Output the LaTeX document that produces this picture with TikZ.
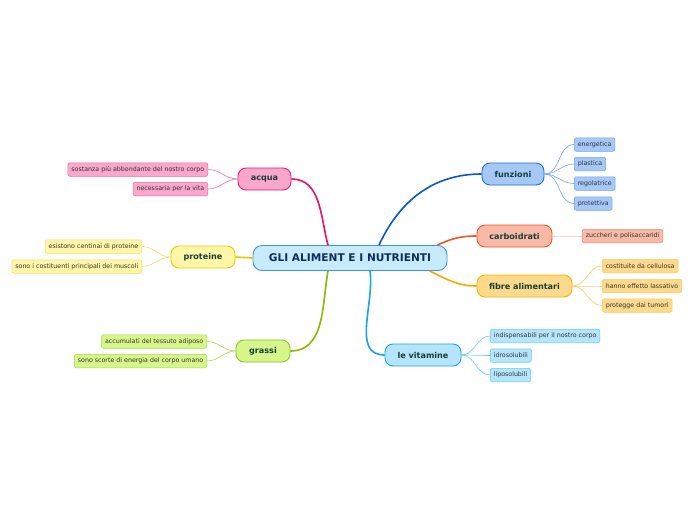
\documentclass[tikz,border=0pt]{standalone}
\usepackage{fontspec}
\setmainfont{DejaVu Sans}
\begin{document}
\begin{tikzpicture}[x=1pt,y=-1pt,
  mainbox/.style={draw=#1!100,line width=0.9pt,rounded corners=9pt,minimum height=25pt,minimum width=194pt,inner sep=0pt,font=\fontsize{10.6}{12}\selectfont\bfseries,text=cText},
  branch/.style n args={3}{draw=#2,fill=#1,line width=0.9pt,rounded corners=8pt,minimum height=22pt,minimum width=#3,inner sep=0pt,font=\fontsize{8.1}{9}\selectfont\bfseries,text=bText},
  leaf/.style 2 args={draw=#2,fill=#1,line width=0.5pt,rounded corners=2pt,minimum height=13.5pt,inner xsep=3.5pt,inner ysep=0pt,font=\fontsize{6.3}{7}\selectfont,text=lText},
  mline/.style={line width=1.6pt,draw=#1},
  lline/.style={line width=0.6pt,draw=#1}]
\definecolor{cText}{HTML}{0D2D5A}
\definecolor{bText}{HTML}{163F3A}
\definecolor{lText}{HTML}{333333}
\definecolor{cFill}{HTML}{C8EBFB}\definecolor{cBord}{HTML}{3D94DC}
\definecolor{bluF}{HTML}{A5C8F7}\definecolor{bluB}{HTML}{1F6FD6}\definecolor{bluL}{HTML}{0A55C9}\definecolor{bluLB}{HTML}{6FA4EE}
\definecolor{orF}{HTML}{F9B9A7}\definecolor{orB}{HTML}{F0562A}\definecolor{orLB}{HTML}{F08A70}\definecolor{orLL}{HTML}{F8C0B0}
\definecolor{yeF}{HTML}{FDD98C}\definecolor{yeB}{HTML}{F8B400}\definecolor{yeL}{HTML}{F8A900}\definecolor{yeLB}{HTML}{F8CD6A}
\definecolor{cyF}{HTML}{B4E5FB}\definecolor{cyB}{HTML}{1AA3E8}\definecolor{cyLB}{HTML}{6CCAF4}
\definecolor{pkF}{HTML}{F9A7CB}\definecolor{pkB}{HTML}{E9187A}\definecolor{pkL}{HTML}{EA0F6B}\definecolor{pkLB}{HTML}{F06CA2}
\definecolor{lyF}{HTML}{FFF6A8}\definecolor{lyB}{HTML}{E8C900}\definecolor{lyLB}{HTML}{F1DD60}
\definecolor{grF}{HTML}{D6F68C}\definecolor{grB}{HTML}{8CC51D}\definecolor{grL}{HTML}{8CB800}\definecolor{grLB}{HTML}{A8D84C}
\useasboundingbox[fill=white] (0,0) rectangle (696,520);

% center
\node[mainbox=cBord,fill=cFill] (c) at (350,258) {GLI ALIMENT E I NUTRIENTI};

% branches
\node[branch={bluF}{bluB}{62pt}] (fz) at (513,174) {funzioni};
\node[branch={orF}{orB}{75pt}] (cb) at (514.5,236) {carboidrati};
\node[branch={yeF}{yeB}{95pt}] (fb) at (524.5,286) {fibre alimentari};
\node[branch={cyF}{cyB}{76pt}] (vt) at (423,355) {le vitamine};
\node[branch={pkF}{pkB}{53pt}] (aq) at (264.5,179) {acqua};
\node[branch={lyF}{lyB}{64pt}] (pr) at (203,257) {proteine};
\node[branch={grF}{grB}{54pt}] (gr) at (263,351) {grassi};

% main connectors
\draw[mline=bluL] ([xshift=29pt]c.north) to[out=65,in=180] (fz.west);
\draw[mline=orB] ([xshift=-10pt]c.north east) to[out=25,in=180] (cb.west);
\draw[mline=yeL] ([xshift=-18pt]c.south east) to[out=-25,in=180] (fb.west);
\draw[mline=cyB] ([xshift=20pt]c.south) to[out=-82,in=180] (vt.west);
\draw[mline=pkL] ([xshift=-22pt]c.north) to[out=105,in=0] (aq.east);
\draw[mline=lyB] (c.west) -- (pr.east);
\draw[mline=grL] ([xshift=-22pt]c.south) to[out=-100,in=0] (gr.east);

% leaves: funzioni
\node[leaf={bluF}{bluLB},anchor=west] (f1) at (574,144.5) {energetica};
\node[leaf={bluF}{bluLB},anchor=west] (f2) at (574,164) {plastica};
\node[leaf={bluF}{bluLB},anchor=west] (f3) at (574,183.5) {regolatrice};
\node[leaf={bluF}{bluLB},anchor=west] (f4) at (574,203.5) {protettiva};
\foreach \n in {f1,f2,f3,f4}{\draw[lline=bluLB] (fz.east) to[out=0,in=180] (\n.west);}

% carboidrati
\node[leaf={orF}{orLB},anchor=west] (k1) at (582,236) {zuccheri e polisaccaridi};
\draw[lline=orLL] (cb.east) to[out=0,in=180] (k1.west);

% fibre
\node[leaf={yeF}{yeLB},anchor=west] (b1) at (602,266) {costituite da cellulosa};
\node[leaf={yeF}{yeLB},anchor=west] (b2) at (602,286) {hanno effetto lassativo};
\node[leaf={yeF}{yeLB},anchor=west] (b3) at (602,305.5) {protegge dai tumori};
\foreach \n in {b1,b2,b3}{\draw[lline=yeLB] (fb.east) to[out=0,in=180] (\n.west);}

% vitamine
\node[leaf={cyF}{cyLB},anchor=west] (v1) at (490,336) {indispensabili per il nostro corpo};
\node[leaf={cyF}{cyLB},anchor=west] (v2) at (490,355.5) {idrosolubili};
\node[leaf={cyF}{cyLB},anchor=west] (v3) at (490,375) {liposolubili};
\foreach \n in {v1,v2,v3}{\draw[lline=cyLB] (vt.east) to[out=0,in=180] (\n.west);}

% acqua
\node[leaf={pkF}{pkLB},anchor=east] (a1) at (208,169.5) {sostanza più abbondante del nostro corpo};
\node[leaf={pkF}{pkLB},anchor=east] (a2) at (208,189) {necessaria per la vita};
\foreach \n in {a1,a2}{\draw[lline=pkLB] (aq.west) to[out=180,in=0] (\n.east);}

% proteine
\node[leaf={lyF}{lyLB},anchor=east] (p1) at (142,246.5) {esistono centinai di proteine};
\node[leaf={lyF}{lyLB},anchor=east] (p2) at (142,266.5) {sono i costituenti principali dei muscoli};
\foreach \n in {p1,p2}{\draw[lline=lyLB] (pr.west) to[out=180,in=0] (\n.east);}

% grassi
\node[leaf={grF}{grLB},anchor=east] (g1) at (207,341.5) {accumulati del tessuto adiposo};
\node[leaf={grF}{grLB},anchor=east] (g2) at (207,361) {sono scorte di energia del corpo umano};
\foreach \n in {g1,g2}{\draw[lline=grLB] (gr.west) to[out=180,in=0] (\n.east);}
\end{tikzpicture}
\end{document}
